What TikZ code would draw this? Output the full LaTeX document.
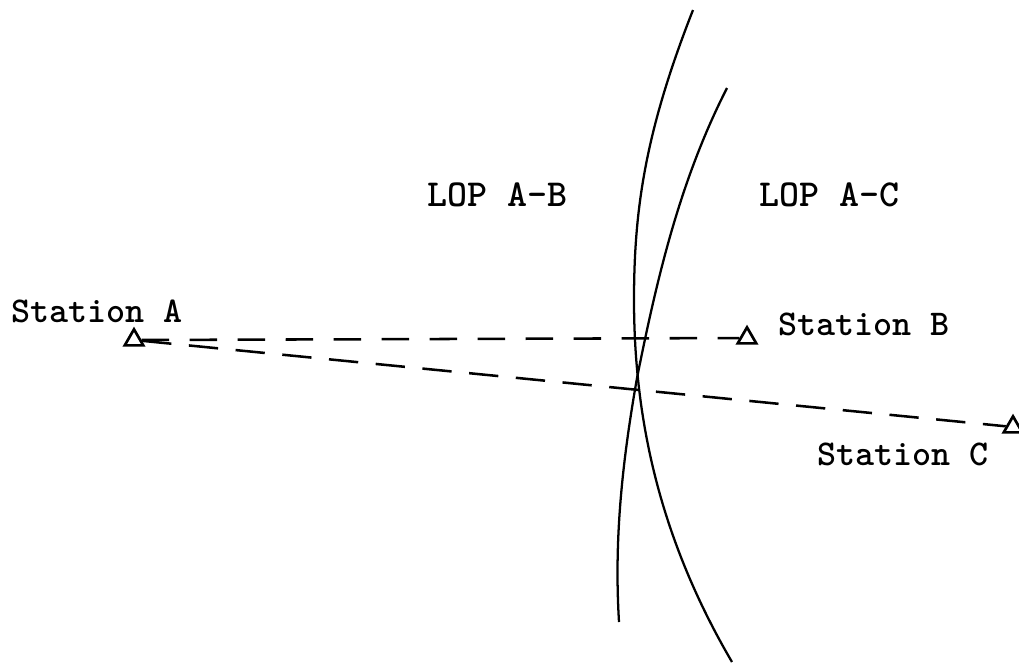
\documentclass[tikz,border=0pt]{standalone}
\usepackage{tikz}
\usetikzlibrary{shapes.geometric}
\tikzset{
	stationmark/.style={draw,regular polygon,regular polygon sides=3,minimum size=16pt,inner sep=0pt,line width=2pt},
	stationlabel/.style={anchor=base west,inner sep=0pt,font=\fontsize{27.2}{30}\selectfont\ttfamily\bfseries},
	loplabel/.style={anchor=base west,inner sep=0pt,font=\fontsize{28.6}{30}\selectfont\ttfamily\bfseries},
	baseAB/.style={line width=1.9pt,dash pattern=on 20.6pt off 15.4pt},
	baseAC/.style={line width=1.9pt,dash pattern=on 22pt off 13.2pt},
	lopcurve/.style={line width=1.7pt}
}
\begin{document}
\begin{tikzpicture}[x=0.75pt,y=0.75pt,yscale=-1,xscale=1]
				\useasboundingbox (0,0) rectangle (1019,662);
				\draw (134,340) node [stationmark] (stnA) {};
				\draw (747,338) node [stationmark] (stnB) {};
				\draw (1013,427) node [stationmark] (stnC) {};
				\coordinate (lopBtop) at (693,10);
				\coordinate (lopBmid) at (634,300);
				\coordinate (lopBbot) at (732,662);
				\coordinate (lopCtop) at (727,88);
				\coordinate (lopCmid) at (637,378);
				\coordinate (lopCbot) at (619,622);
				\draw [baseAB] (stnA) -- (stnB);
				\draw [baseAC] (stnA) -- (stnC);
				\draw [lopcurve] (lopBtop) .. controls (645,132) and (634,210) .. (lopBmid) .. controls (634,420) and (660,539) .. (lopBbot);
				\draw [lopcurve] (lopCtop) .. controls (680,180) and (657,278) .. (lopCmid) .. controls (622,463) and (614,540) .. (lopCbot);
				\draw (427,206) node [loplabel] (lopAB) {LOP A-B};
				\draw (759,206) node [loplabel] (lopAC) {LOP A-C};
				\draw (11,322) node [stationlabel] (lblA) {Station A};
				\draw (778,335) node [stationlabel] (lblB) {Station B};
				\draw (817,465) node [stationlabel] (lblC) {Station C};
\end{tikzpicture}
\end{document}
